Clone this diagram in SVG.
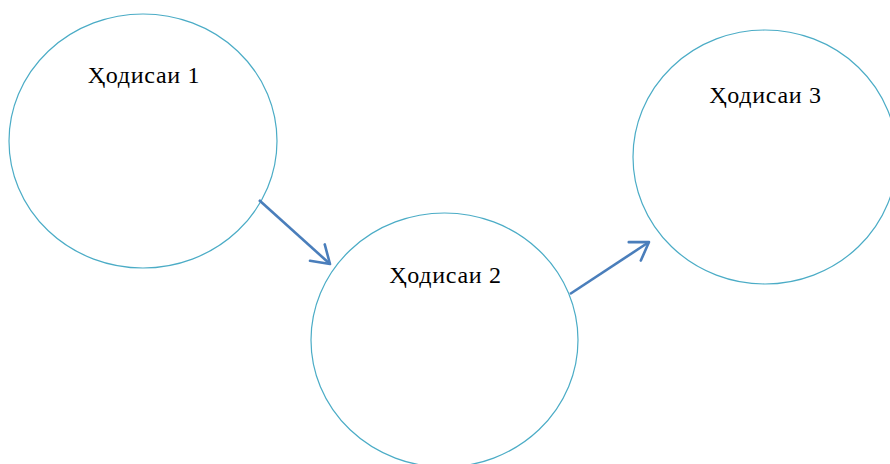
<svg xmlns="http://www.w3.org/2000/svg" width="890" height="464" viewBox="0 0 890 464">
<style>
.node ellipse{fill:#fff;stroke:#4bacc6;stroke-width:1.2}
.node text{font-family:"Liberation Serif","DejaVu Serif",serif;font-size:24px;letter-spacing:0.7px;fill:#000;text-anchor:middle}
.conn line{stroke:#4a7ebb;stroke-width:2.6;fill:none}
</style>
<defs>
<marker id="ah" markerUnits="userSpaceOnUse" markerWidth="30" markerHeight="30" viewBox="-25 -15 30 30" refX="0" refY="0" orient="auto">
<path d="M-17,-11 L0,0 L-17,11" fill="none" stroke="#4a7ebb" stroke-width="2.6" stroke-linecap="round" stroke-linejoin="round"/>
</marker>
</defs>
<rect width="890" height="464" fill="#fff"/>
<g id="node1" class="node"><ellipse cx="143" cy="141" rx="134" ry="127"/><text x="144" y="83">Ҳодисаи 1</text></g>
<g id="node2" class="node"><ellipse cx="444.5" cy="340" rx="133.5" ry="127"/><text x="445.5" y="283">Ҳодисаи 2</text></g>
<g id="node3" class="node"><ellipse cx="765" cy="157" rx="132" ry="127"/><text x="765.5" y="103">Ҳодисаи 3</text></g>
<g id="connectors" class="conn">
<line x1="259" y1="200" x2="330" y2="264" marker-end="url(#ah)"/>
<line x1="570" y1="294" x2="649" y2="242" marker-end="url(#ah)"/>
</g>
</svg>
